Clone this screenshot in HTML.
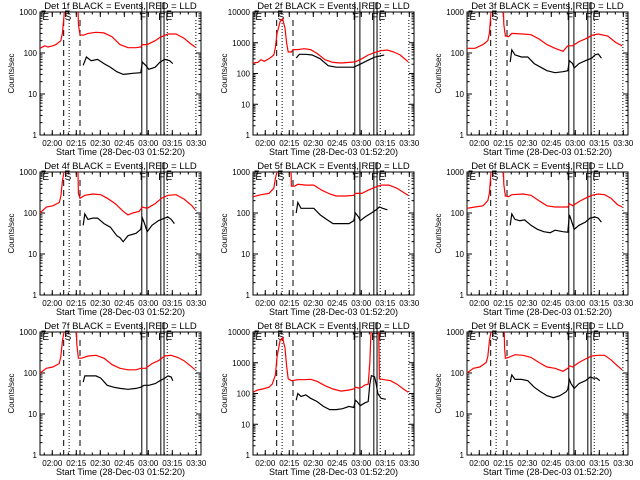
<!DOCTYPE html>
<html><head><meta charset="utf-8"><style>
html,body{margin:0;padding:0;background:#fff;}
svg{display:block;font-family:"Liberation Sans",sans-serif;}
</style></head><body>
<svg id="c" width="640" height="480" viewBox="0 0 640 480"></svg>
<script>
// time in minutes since 01:52:20
const xTickLabels=["02:00","02:15","02:30","02:45","03:00","03:15","03:30"];
const xTickTimes=[7.67,22.67,37.67,52.67,67.67,82.67,97.67];
const dashedTimes=[14.8,25];
const dottedTimes=[18.2,79.5,97.4];
const solidTimes=[63.6,66.8,75.5,77.5];
const detNames=["1f","2f","3f","4f","5f","6f","7f","8f","9f"];
const decades=[3,4,3,3,3,3,3,4,3];

const red1T=[0,3,5,8,10,13,14,15,16,23.5,24,25,27,30,35,40,45,50,55,60,63,64,67,72,75,80,85,90,94,97];
const red1V=[130,150,140,150,160,200,300,800,3000,3000,500,280,270,300,320,310,250,160,135,135,140,160,160,200,240,290,290,230,170,140];
const blk1T=[27,29,32,36,40,44,48,52,58,63,64,66,68,72,75,78,81,83];
const blk1V=[50,80,65,70,55,45,35,30,32,33,60,50,40,45,60,70,65,55];

const red2T=[0,3,5,7,10,13,14,15,17,18.5,20,21,22,24,25,28,32,36,40,45,50,55,60,64,68,72,76,80,84,88,92,97];
const red2V=[220,230,280,250,300,400,700,2000,5000,6000,3000,1000,500,500,600,600,640,600,450,280,230,220,230,240,300,400,480,550,580,500,400,240];
const blk2T=[27,29,33,37,42,47,52,58,63,67,72,76,80,82];
const blk2V=[320,420,420,400,300,180,160,160,160,200,270,340,380,400];

const red3T=[0,5,10,13,14,15,16,22.5,23,24,26,28,35,40,45,50,55,60,63,66,70,75,78,82,88,93,97];
const red3V=[130,130,160,200,300,1000,3000,3000,500,260,250,300,290,280,220,160,130,110,150,150,190,230,270,290,260,180,150];
const blk3T=[27,28,30,34,38,42,46,50,55,60,63,64,66,67,70,74,78,80,82,84];
const blk3V=[60,120,90,80,80,55,45,37,33,35,37,65,55,43,55,65,75,90,95,75];

const red4T=[0,4,8,12,13,14,15,16,23.5,24,25,28,33,38,42,47,52,55,58,62,64,67,72,76,80,85,90,95,97];
const red4V=[100,140,150,180,250,600,1000,3000,3000,300,230,270,290,280,230,170,110,90,100,110,140,130,170,230,270,280,220,150,120];
const blk4T=[27,28,30,33,36,40,44,48,50,52,55,60,63,64,65,67,70,74,78,80,82,84];
const blk4V=[50,95,70,75,75,55,45,28,25,20,28,32,40,75,60,35,50,65,75,80,70,55];

const red5T=[0,5,10,13,14,15,16,23.5,24,26,28,33,38,43,48,52,58,63,64,68,72,76,80,85,90,95,97];
const red5V=[250,280,300,400,700,1000,3000,3000,450,450,500,480,480,360,290,260,260,270,300,300,360,420,480,480,400,300,270];
const blk5T=[27,28,30,34,38,42,46,50,55,60,63,64,66,67,70,74,77,79,81,84];
const blk5V=[100,180,130,130,130,90,70,55,55,55,65,100,80,65,80,100,120,140,130,120];

const red6T=[0,5,10,13,14,15,16,22.5,23,24,26,28,35,40,45,50,55,60,63,64,66,70,74,78,82,86,90,94,97];
const red6V=[130,140,150,200,300,1000,3000,3000,500,260,250,280,290,270,200,150,140,140,140,170,150,190,230,270,290,280,230,160,140];
const blk6T=[27,28,30,33,36,40,44,48,52,55,60,63,64,65,67,70,74,77,80,82,84];
const blk6V=[50,95,70,65,68,50,40,35,33,38,35,34,90,70,40,50,60,75,80,75,60];

const red7T=[0,4,8,12,13,14,15,16,22.5,23,24,26,30,35,40,45,50,55,60,63,66,70,74,78,82,86,90,94,97];
const red7V=[100,130,140,170,250,600,1000,3000,3000,500,230,230,260,270,230,160,130,120,120,130,130,170,200,260,270,240,200,150,120];
const blk7T=[27,28,30,35,38,42,46,50,55,60,63,65,68,72,75,78,80,82,83];
const blk7V=[60,85,85,85,75,50,45,42,40,42,45,50,50,55,65,75,85,80,65];

const red8T=[0,3,6,10,12,14,15,17,18.5,20,21,22,24,28,32,36,40,45,50,55,60,63,64,66,68,70,72,73,74,78.5,79,82,86,90,94,97];
const red8V=[110,130,140,160,200,400,1500,5500,6500,3000,800,300,260,280,280,290,250,180,140,120,130,140,160,150,160,190,200,1000,20000,20000,300,280,260,200,140,110];
const blk8T=[27,28,30,33,36,40,44,48,52,56,60,63,64,65,67,70,72,73,74,76,77,78,80,83];
const blk8V=[60,100,80,90,70,55,38,30,30,32,38,35,60,55,40,50,55,200,380,350,200,100,70,65];

const red9T=[0,4,8,12,13,14,15,16,23,23.5,24,26,30,35,40,45,50,55,60,63,64,66,70,74,78,82,86,90,94,97];
const red9V=[100,130,140,180,250,600,1000,3000,3000,400,230,240,280,270,240,180,140,130,110,130,150,140,180,220,260,270,270,210,150,120];
const blk9T=[27,28,30,34,38,42,46,50,54,58,62,63,64,65,67,70,74,77,79,81,83];
const blk9V=[60,90,70,70,65,45,35,28,25,28,35,40,70,55,42,55,65,80,75,75,65];

const redT=[red1T,red2T,red3T,red4T,red5T,red6T,red7T,red8T,red9T];
const redV=[red1V,red2V,red3V,red4V,red5V,red6V,red7V,red8V,red9V];
const blkT=[blk1T,blk2T,blk3T,blk4T,blk5T,blk6T,blk7T,blk8T,blk9T];
const blkV=[blk1V,blk2V,blk3V,blk4V,blk5V,blk6V,blk7V,blk8V,blk9V];

const NS="http://www.w3.org/2000/svg";
const svg=document.getElementById('c');
function mk(tag,attrs,parent){const e=document.createElementNS(NS,tag);for(const k in attrs)e.setAttribute(k,attrs[k]);(parent||svg).appendChild(e);return e;}
const colX=[40,253,467], rowY=[12,172,332], W=161, H=123, TMAX=100.6;

for(let p=0;p<9;p++){
  const x0=colX[p%3], y0=rowY[Math.floor(p/3)], x1=x0+W, y1=y0+H, nd=decades[p];
  const g=mk('g',{});
  
  
  const xs=t=>x0+t/TMAX*W;
  const ys=v=>y1-Math.log10(v)/nd*H;
  const cp=mk('clipPath',{id:'cp'+p},g);
  mk('rect',{x:x0,y:y0,width:W,height:H},cp);
  const ti=mk('text',{x:(x0+x1)/2,y:y0-3,'text-anchor':'middle','font-size':9.5,fill:'#000'},g);
  ti.textContent='Det '+detNames[p]+' BLACK = Events, RED = LLD';
  
  
  const box=mk('rect',{x:x0,y:y0,width:W,height:H,fill:'none',stroke:'#000','stroke-width':1},g);
  
  
  for(let d=0;d<=nd;d++){
    const v=Math.pow(10,d), y=ys(v);
    mk('line',{x1:x0,x2:x0+5,y1:y,y2:y,stroke:'#000'},g);
    mk('line',{x1:x1,x2:x1-5,y1:y,y2:y,stroke:'#000'},g);
    const tl=mk('text',{x:x0-3,y:y+3,'text-anchor':'end','font-size':8,fill:'#000'},g);
    tl.textContent=String(v);
    
    
    if(d<nd)for(let m=2;m<10;m++){const ym=ys(v*m);
      mk('line',{x1:x0,x2:x0+2.5,y1:ym,y2:ym,stroke:'#000'},g);
      mk('line',{x1:x1,x2:x1-2.5,y1:ym,y2:ym,stroke:'#000'},g);}
  }
  const yl=mk('text',{x:0,y:0,'text-anchor':'middle','font-size':8,fill:'#000',transform:'translate('+(x0-26)+','+((y0+y1)/2)+') rotate(-90)'},g);
  yl.textContent='Counts/sec';
  
  
  for(let i=0;i<xTickTimes.length;i++){
    const x=xs(xTickTimes[i]);
    mk('line',{x1:x,x2:x,y1:y1,y2:y1-5,stroke:'#000'},g);
    mk('line',{x1:x,x2:x,y1:y0,y2:y0+5,stroke:'#000'},g);
    const xl=mk('text',{x:x,y:y1+11,'text-anchor':'middle','font-size':8,fill:'#000'},g);
    xl.textContent=xTickLabels[i];
    
    
  }
  for(let t=2.67;t<TMAX;t+=5){const x=xs(t);
    mk('line',{x1:x,x2:x,y1:y1,y2:y1-2.5,stroke:'#000'},g);
    mk('line',{x1:x,x2:x,y1:y0,y2:y0+2.5,stroke:'#000'},g);}
  const xt=mk('text',{x:(x0+x1)/2,y:y1+20,'text-anchor':'middle','font-size':9,fill:'#000'},g);
  xt.textContent='Start Time (28-Dec-03 01:52:20)';
  
  
  dashedTimes.forEach(t=>{const x=xs(t);const l=mk('line',{x1:x,x2:x,y1:y0+8,y2:y1,stroke:'#000','stroke-dasharray':'6,4'},g);
    });
  dottedTimes.forEach(t=>{const x=xs(t);const l=mk('line',{x1:x,x2:x,y1:y0+8,y2:y1,stroke:'#000','stroke-dasharray':'1,2'},g);
    });
  solidTimes.forEach(t=>{const x=xs(t);const l=mk('line',{x1:x,x2:x,y1:y0-10,y2:y1,stroke:'#000'},g);
    });
  mk('path',{d:'M'+(x0+2)+' '+(y0+5)+' V'+(y0-1)+' H'+xs(3.5),fill:'none',stroke:'#000'},g);
  mk('path',{d:'M'+xs(16)+' '+(y0+5)+' V'+(y0-1)+' H'+xs(18.5),fill:'none',stroke:'#000'},g);
  mk('path',{d:'M'+xs(79.5)+' '+(y0+5)+' V'+(y0-1)+' H'+xs(82),fill:'none',stroke:'#000'},g);
  [['E',1.5],['S',17.5],['F',64.3],['F',75.8],['E',80.5]].forEach(([s,t])=>{
    const lt=mk('text',{x:xs(t),y:y0+8,'font-size':10,fill:'#000','text-anchor':t<3?'start':'middle'},g);
    lt.textContent=s;
    
    
  });
  const pr=redT[p].map((t,i)=>xs(t).toFixed(1)+','+ys(redV[p][i]).toFixed(1)).join(' ');
  const rl=mk('polyline',{points:pr,fill:'none',stroke:'#ff0000','stroke-width':1.2,'clip-path':'url(#cp'+p+')'},g);
  
  
  const pb=blkT[p].map((t,i)=>xs(t).toFixed(1)+','+ys(blkV[p][i]).toFixed(1)).join(' ');
  const bl=mk('polyline',{points:pb,fill:'none',stroke:'#000','stroke-width':1.2,'clip-path':'url(#cp'+p+')'},g);
  
  
}
</script>
</body></html>
